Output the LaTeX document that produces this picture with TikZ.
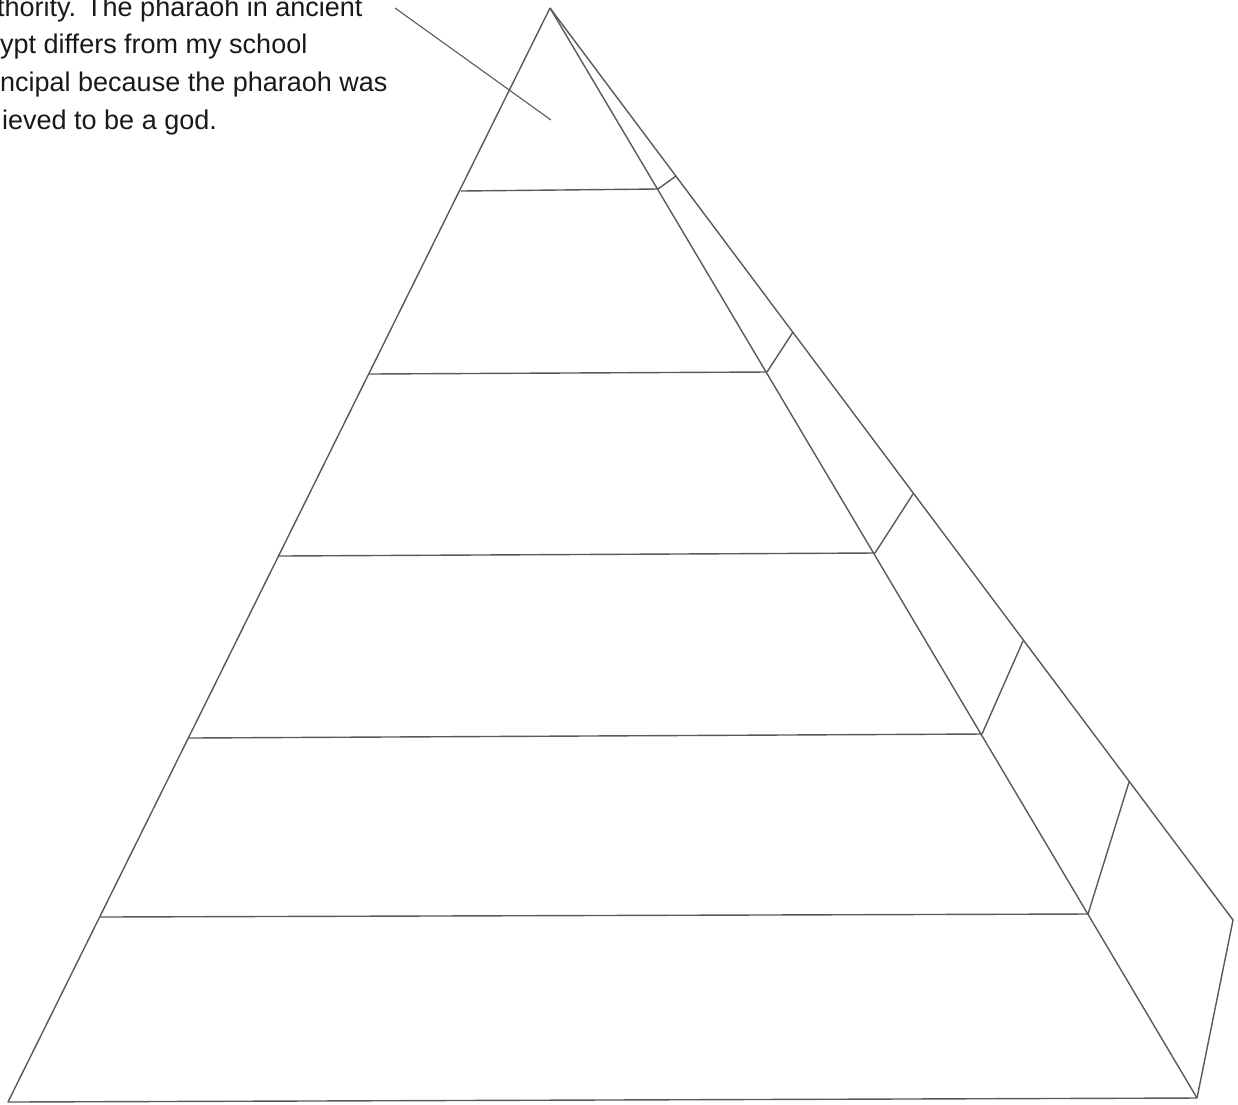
\documentclass[tikz,border=0pt]{standalone}
\usepackage{fontspec}
\setmainfont{Liberation Sans}
\begin{document}
\begin{tikzpicture}[x=1pt,y=-1pt,
  edge/.style={draw=black!65, line width=1.4pt, line join=round},
  txt/.style={anchor=base west, inner sep=0pt, text=black!90, font=\fontsize{27}{32}\selectfont}]
\useasboundingbox (0,0) rectangle (1238,1104);
\clip (0,0) rectangle (1238,1104);
% key points
\coordinate (apex) at (550,8);
\coordinate (BL) at (8,1102);
\coordinate (BR) at (1197,1098);
\coordinate (BK) at (1233,920);
% band ends, left side
\coordinate (L1) at (461,191);
\coordinate (L2) at (369,374);
\coordinate (L3) at (279,556);
\coordinate (L4) at (189,738);
\coordinate (L5) at (100,917);
% band ends, front right edge
\coordinate (R1) at (658,189);
\coordinate (R2) at (767,372);
\coordinate (R3) at (875,553);
\coordinate (R4) at (982,734);
\coordinate (R5) at (1088,914);
% back edge points
\coordinate (K1) at (676,176);
\coordinate (K2) at (793,332);
\coordinate (K3) at (913,494);
\coordinate (K4) at (1023,641);
\coordinate (K5) at (1129,782);
% pyramid outline
\draw[edge] (apex) -- (BL) -- (BR) -- (apex);
\draw[edge] (apex) -- (BK) -- (BR);
% bands
\foreach \i in {1,...,5} {
  \draw[edge] (L\i) -- (R\i);
  \draw[edge] (R\i) -- (K\i);
}
% text
\node[txt] (t1) at (-3,16) {thority. The pharaoh in ancient};
\node[txt] (t2) at (0,53) {ypt differs from my school};
\node[txt] (t3) at (0,91) {ncipal because the pharaoh was};
\node[txt] (t4) at (2,129) {ieved to be a god.};
\coordinate (lead) at (395,8);
\coordinate (tip) at (551,120);
\draw[edge, line width=1.1pt] (lead) -- (tip);
\end{tikzpicture}
\end{document}
